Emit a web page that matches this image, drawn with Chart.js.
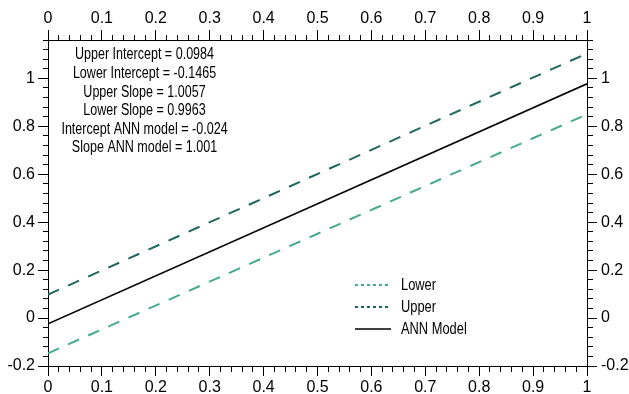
<!DOCTYPE html>
<html>
<head>
<meta charset="utf-8">
<script src="https://cdn.jsdelivr.net/npm/chart.js@4.4.1/dist/chart.umd.min.js"></script>
<style>
html,body{margin:0;padding:0;background:#fff;}
canvas{display:block;}
</style>
</head>
<body>
<canvas id="c" width="629" height="394"></canvas>
<script>
// ---- data ----
const xValues = [0, 1];
const lowerValues = [-0.147, 0.850];
const upperValues = [0.098, 1.104];
const annValues = [-0.024, 0.977];
const seriesLabels = ['Lower', 'Upper', 'ANN Model'];
const annotationLines = [
  'Upper Intercept = 0.0984',
  'Lower Intercept = -0.1465',
  'Upper Slope = 1.0057',
  'Lower Slope = 0.9963',
  'Intercept ANN model = -0.024',
  'Slope ANN model = 1.001'
];
const xRange = [0, 1];
const yRange = [-0.2, 1.16];

const pts = (vals) => xValues.map((x, i) => ({x: x, y: vals[i]}));

const FONT = '"Liberation Sans", Arial, sans-serif';
Chart.defaults.font.family = FONT;
Chart.defaults.color = '#000';

function isMajor(v, step) {
  const r = v / step;
  return Math.abs(r - Math.round(r)) < 1e-6;
}
function makeAxis(pos, range, minorStep, majorStep, size) {
  const outwardFirst = (pos === 'bottom' || pos === 'right');
  return {
    type: 'linear',
    position: pos,
    min: range[0],
    max: range[1],
    afterFit: (s) => { if (pos === 'left' || pos === 'right') s.width = size; else s.height = size; },
    border: {display: true, color: '#000', width: 1},
    grid: {
      drawOnChartArea: false,
      drawTicks: true,
      tickLength: 10,
      tickColor: '#000',
      tickWidth: 1,
      tickBorderDash: (ctx) => {
        const v = ctx.tick ? ctx.tick.value : 0;
        if (isMajor(v, majorStep)) return [];
        return outwardFirst ? [5, 100] : [0, 5, 5, 100];
      }
    },
    ticks: {
      stepSize: minorStep,
      maxTicksLimit: 1000,
      autoSkip: false,
      maxRotation: 0,
      minRotation: 0,
      padding: (pos === 'right') ? 4 : (pos === 'left' ? 3 : 2),
      font: {size: 16},
      color: '#000',
      callback: (v) => isMajor(v, majorStep) ? String(Math.round(v * 10) / 10) : ''
    }
  };
}

// draw condensed text (Arial-Narrow-like look)
function narrowText(ctx, text, x, y, size, align, sx) {
  ctx.save();
  ctx.translate(x, y);
  ctx.scale(sx, 1);
  ctx.font = size + 'px ' + FONT;
  ctx.textAlign = align;
  ctx.textBaseline = 'middle';
  ctx.fillStyle = '#000';
  ctx.fillText(text, 0, 0);
  ctx.restore();
}

const overlay = {
  id: 'overlay',
  afterDraw(chart) {
    const ctx = chart.ctx;
    ctx.save();
    annotationLines.forEach((t, i) => narrowText(ctx, t, 144.5, 55 + i * 18.6, 16.3, 'center', 0.77));
    const rows = [285, 307, 329];
    chart.data.datasets.forEach((ds, i) => {
      const y = rows[i];
      ctx.beginPath();
      ctx.strokeStyle = ds.borderColor;
      ctx.lineWidth = ds.borderWidth;
      ctx.setLineDash(ds.borderDash && ds.borderDash.length ? [3, 3] : []);
      ctx.moveTo(355, y);
      ctx.lineTo(391, y);
      ctx.stroke();
      ctx.setLineDash([]);
      narrowText(ctx, ds.label, 401, y + 1, 16.3, 'left', 0.79);
    });
    ctx.restore();
  }
};

new Chart(document.getElementById('c'), {
  type: 'line',
  data: {
    datasets: [
      {label: seriesLabels[0], data: pts(lowerValues), borderColor: '#45a98f', borderWidth: 2, borderDash: [12, 10], pointRadius: 0, fill: false, xAxisID: 'x', yAxisID: 'y'},
      {label: seriesLabels[1], data: pts(upperValues), borderColor: '#1f665e', borderWidth: 2, borderDash: [12, 10], pointRadius: 0, fill: false, xAxisID: 'x', yAxisID: 'y'},
      {label: seriesLabels[2], data: pts(annValues), borderColor: '#000000', borderWidth: 1.7, borderDash: [], pointRadius: 0, fill: false, xAxisID: 'x', yAxisID: 'y'}
    ]
  },
  options: {
    responsive: false,
    animation: false,
    devicePixelRatio: 1,
    layout: {padding: 0},
    plugins: {legend: {display: false}, tooltip: {enabled: false}},
    scales: {
      x: makeAxis('bottom', xRange, 0.02, 0.1, 28),
      x2: makeAxis('top', xRange, 0.02, 0.1, 40),
      y: makeAxis('left', yRange, 0.04, 0.2, 48),
      y2: makeAxis('right', yRange, 0.04, 0.2, 42)
    }
  },
  plugins: [overlay]
});
</script>
</body>
</html>
